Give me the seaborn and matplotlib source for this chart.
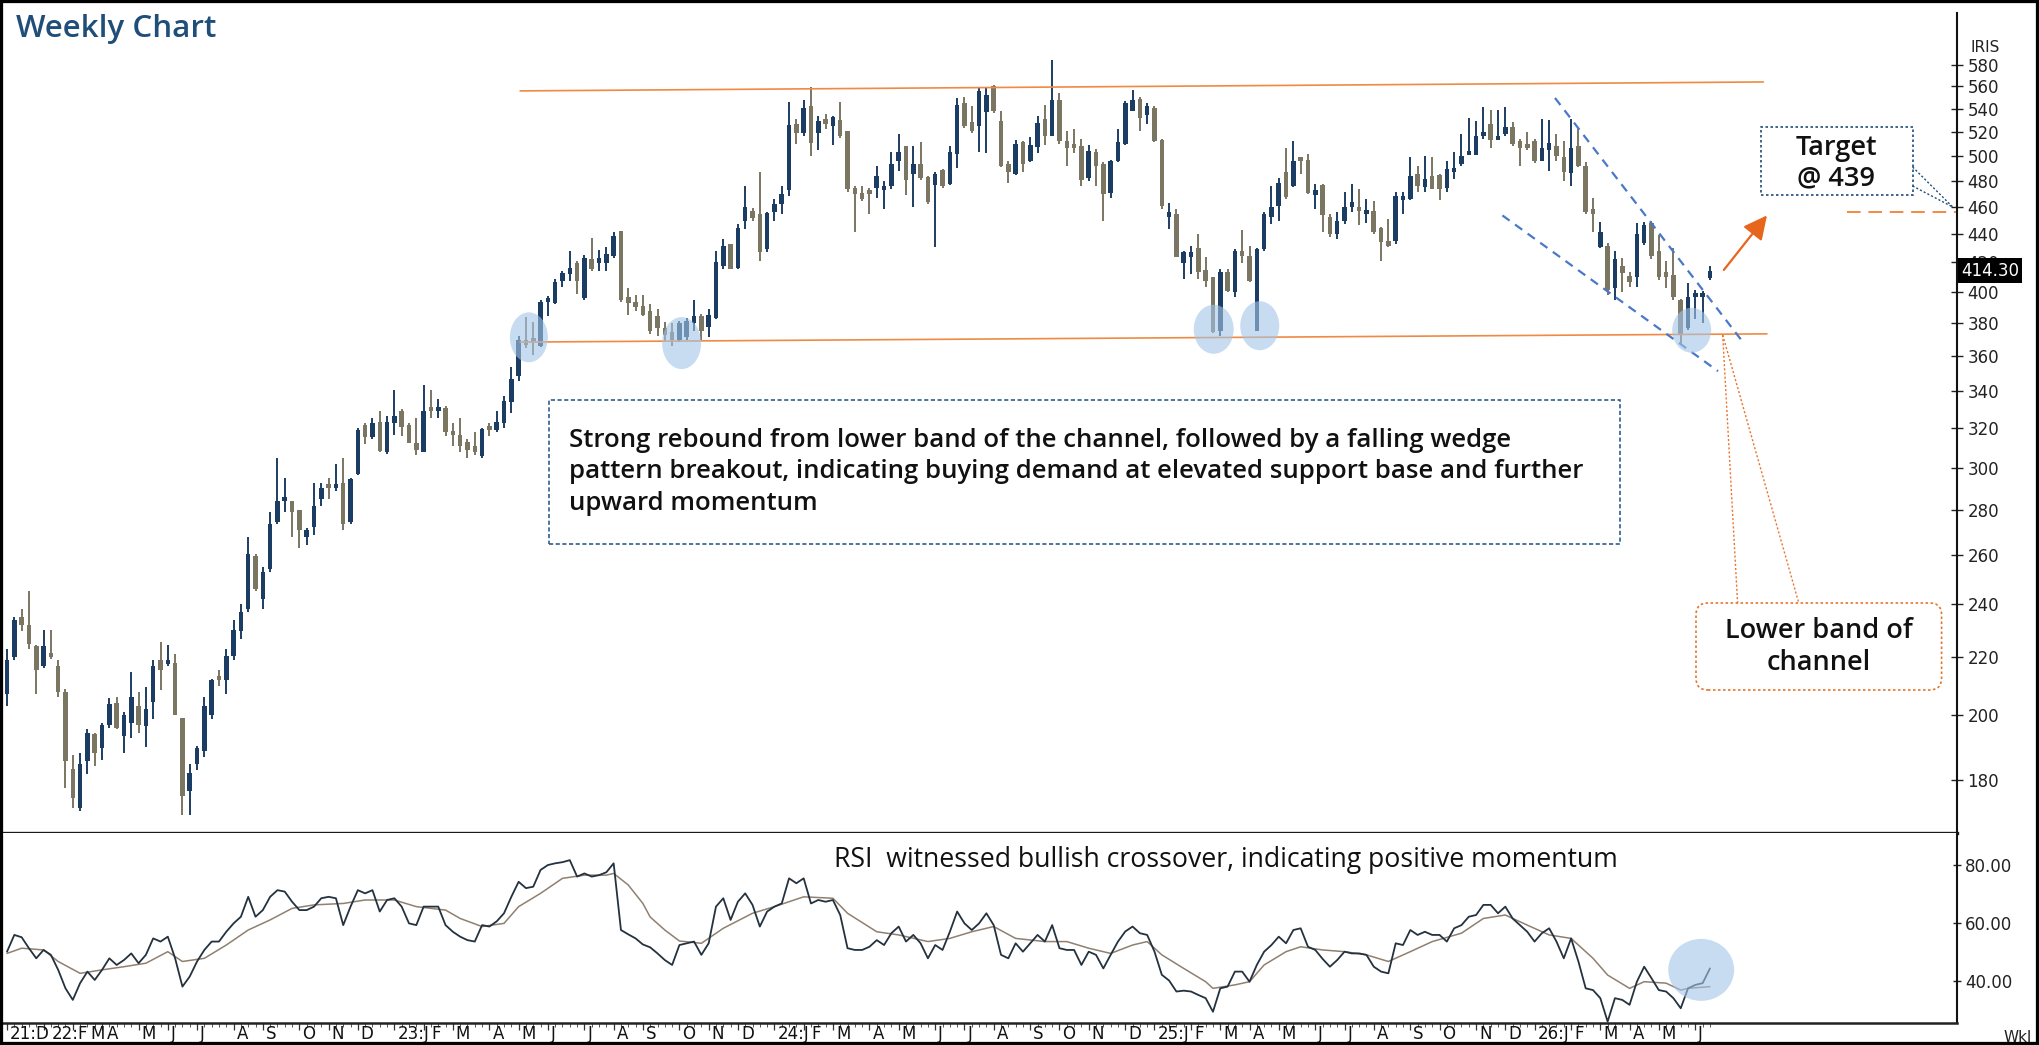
import numpy as np
import pandas as pd
import matplotlib
matplotlib.use("Agg")
from matplotlib import pyplot as plt
from matplotlib.patches import Rectangle, Ellipse, FancyBboxPatch
from matplotlib.lines import Line2D
from matplotlib.transforms import ScaledTranslation, blended_transform_factory
from matplotlib.ticker import NullLocator
import seaborn as sns

sns.set_theme(style="white")
plt.rcParams['font.family'] = ['DejaVu Sans']

# weekly bars, dated by the week-ending Friday
first_bar = '2021-12-31'

opens = [207, 220, 235, 232, 224, 217, 220.5, 217, 208, 183.3,
         172, 185.6, 194, 189.6, 197, 204, 193.5, 197.5, 203, 196.6,
         204.5, 219, 217.5, 218, 199.3, 176.7, 184.7, 188.8, 200, 213,
         212, 220.5, 229.5, 238, 259.5, 242, 254, 274.5, 284, 284,
         280, 268, 272.3, 285, 292, 290, 292.7, 274.5, 297, 321.5,
         315.5, 323.4, 307.6, 322.7, 329.3, 322, 312.4, 307.6, 330.5, 329.3,
         331, 318.5, 316.4, 313, 311, 305.8, 320, 319, 322.7, 334,
         348.5, 370, 370.5, 366, 393.5, 393, 407.4, 411.9, 419.6, 396,
         422, 419.6, 419.6, 424, 442, 396.6, 393.5, 391, 387.7, 384.5,
         377, 374.4, 370, 371.8, 380.4, 384.5, 378, 383.4, 417.7, 433,
         416.3, 449.6, 457, 454.3, 429.4, 456, 462, 472.3, 527, 518.8,
         542.4, 518.8, 530, 525, 530, 520.5, 474.4, 470.5, 470.5, 474.4,
         472.3, 475.5, 495.3, 507.7, 485.6, 493.3, 483, 476.5, 488.3, 477,
         501.4, 544.6, 528.3, 525, 537.2, 560.6, 529, 493.3, 485.6, 511,
         495.3, 507, 531, 516.6, 547.7, 512, 508, 508, 481.8, 503.4,
         493.3, 470.5, 495.3, 509.8, 538.3, 549, 534.5, 540.2, 512.8, 452.5,
         454.3, 419.6, 423.7, 429.8, 414.6, 409.6, 375, 413.2, 400, 427.6,
         424, 375, 429, 452.5, 460.4, 486.6, 475.5, 496.5, 496.1, 468.5,
         476.5, 452.5, 439.7, 449, 459.9, 458.2, 454.6, 456.4, 444.4, 435,
         435, 464.8, 465.8, 485.6, 474.8, 483.4, 484.5, 474.4, 486.6, 493.3,
         500.6, 500.6, 516, 527, 513, 518.4, 523.7, 512, 508, 512,
         496, 504.5, 508, 499, 486, 508, 491.3, 458.2, 430.8, 431.4,
         402.5, 417.4, 410.9, 410.2, 433.2, 447.7, 428, 413.5, 411, 395,
         376.8, 396.6, 396.7, 409]

highs = [223, 235, 238, 245, 224.5, 230, 230, 219, 209, 187.6,
         188, 195.5, 194.5, 197.6, 205.8, 206, 201, 214.6, 207.7, 209.5,
         219, 225.5, 224.5, 221, 199.3, 184.7, 190.4, 206, 212.3, 215.5,
         223, 234, 240, 268, 260.4, 255, 279, 304.7, 295, 284,
         280, 272, 292.7, 292.7, 295, 302, 304.7, 295.2, 320, 322.7,
         325.3, 329.3, 326.3, 340.7, 330.5, 322.7, 325.6, 343.6, 340.7, 336,
         332, 322.7, 325.6, 314.7, 318.3, 320.2, 322.7, 329.3, 337.6, 354,
         372, 384, 381, 395, 397.5, 408.4, 414.3, 428, 420.6, 424.7,
         436.8, 428.4, 430.7, 441.5, 442, 402.5, 398.3, 398.3, 392, 388.7,
         380.7, 380, 381.4, 383.5, 395, 385.6, 389, 428, 436, 433,
         447, 475.5, 459, 486.6, 456, 466, 475.5, 545.9, 531, 547.7,
         559.6, 533.5, 535.6, 533.5, 546, 520.5, 475.5, 475.5, 474.4, 491.3,
         479.3, 502.6, 517.7, 507.7, 507.7, 511, 483.4, 486.6, 489.5, 507.7,
         549.4, 550.7, 542.2, 559.6, 559.6, 561.5, 538, 496, 512.8, 512,
         515.4, 533.5, 543.2, 584.4, 553.6, 520.5, 522.6, 514, 508.6, 505.8,
         494.5, 496.5, 522.6, 547, 556.8, 550.3, 544.6, 542.4, 514, 463,
         458, 428, 431.4, 440, 423.7, 409.6, 415, 415, 429.4, 443,
         431.4, 430, 456, 475.5, 481.8, 506.4, 512, 499, 501.4, 477.3,
         477.7, 454.3, 455.6, 471.5, 477.7, 473.3, 465.8, 464, 445, 450.8,
         471.5, 471.5, 498.5, 492, 499.4, 498.5, 485.6, 495.3, 503.4, 517.7,
         531.4, 529, 541.3, 539, 539, 541.3, 528.3, 514, 519.7, 514,
         531, 529.7, 517.7, 512, 531, 523.4, 494.5, 466.5, 448.8, 433.3,
         428, 423, 413.6, 447.7, 448.8, 449.6, 439.4, 421, 430, 395.7,
         406.2, 401, 400.4, 417.5]

lows = [203, 219, 229.5, 223, 207, 216, 219.5, 206, 177.5, 171.9,
        171, 181.8, 184, 186, 196, 195.7, 188, 192.7, 194.5, 189.8,
        199, 208.5, 217, 200, 170, 170, 183, 187, 199, 210,
        207, 219, 226.7, 237, 245, 238, 253, 273.4, 279, 268,
        263, 264.5, 268.8, 281.7, 285, 289, 271, 273.4, 296.6, 312,
        314.4, 307.6, 306.7, 316.6, 316, 312.4, 306.5, 307.6, 325.3, 325.3,
        316, 311, 307.6, 305, 306.5, 305, 316, 318, 320.2, 328,
        345.5, 365, 361, 365.5, 384.5, 392.4, 403.6, 407.4, 398.4, 395,
        414.3, 414.3, 414.3, 423, 393.5, 385, 387.7, 384.5, 373.5, 372.5,
        368.5, 366, 368.5, 370, 375, 370, 371.8, 382.5, 415, 415,
        415.5, 443.6, 449, 421, 427.2, 449, 454.3, 467.7, 510, 516.6,
        500, 504.6, 522.6, 508.6, 514.5, 471.5, 441.5, 464, 454.3, 466.5,
        458, 473.3, 487.6, 468.5, 459.9, 480.6, 462.3, 430.8, 474.4, 476.5,
        490, 523.4, 519, 503.4, 502, 536, 491, 478, 484.5, 486.6,
        494.5, 502.2, 508.6, 516.6, 510, 491.7, 502, 475.5, 479.8, 475.5,
        449.6, 466.5, 494.5, 508.6, 538, 520.5, 527, 511, 458, 443.6,
        423.7, 408.4, 412, 408.4, 403.6, 373.8, 372, 400, 396.6, 419.6,
        406.7, 375, 428, 447, 449, 465.8, 474.8, 485, 469.5, 458,
        441, 437.8, 436, 447, 455.6, 446.6, 447.7, 439.7, 421, 430.7,
        432.6, 454.3, 465, 471.5, 471.5, 473.7, 465, 471.5, 481, 491.3,
        500.6, 500.6, 513.7, 506.5, 513, 516, 508, 491.7, 504.6, 494,
        495.3, 487.6, 495.7, 479.8, 475.5, 490.4, 454.3, 441.5, 429.8, 398.3,
        394.6, 400, 403.6, 403.3, 432.3, 422, 408, 402.8, 394.5, 367.4,
        376, 383, 380, 407.8]

closes = [219, 234, 232, 225, 215.5, 224, 220, 208, 185.6, 174.7,
          184.7, 194.5, 188, 197, 203.7, 196, 200, 206, 197, 202,
          217, 215.5, 218, 200, 175.4, 182, 189.6, 203, 212, 212,
          220.5, 230, 237, 260.4, 246, 253, 273.4, 284, 285.5, 279,
          271, 271, 281.7, 290, 290, 291.5, 273.4, 294.7, 319, 315.5,
          322.7, 308.5, 323.4, 326.3, 320.5, 312.4, 308.8, 329.3, 329.3, 330.5,
          318, 316.5, 311, 308.8, 307.6, 319.5, 319, 323.4, 334.7, 347,
          370, 367, 368.5, 393.5, 395, 406.7, 412.9, 416.3, 407.4, 423,
          415, 421.3, 425.5, 438.6, 395, 393, 390.5, 385, 375.4, 377.4,
          373, 370, 380, 381.4, 384.5, 375.4, 385, 420, 431.4, 415.5,
          444.4, 459.9, 451.8, 427.2, 455.4, 462, 469.5, 525.7, 518.8, 540.2,
          510.3, 529, 527, 532.7, 516.6, 473.3, 469.5, 465.8, 469.5, 483.4,
          474.4, 493.3, 503.4, 480.6, 493.3, 481.8, 463.5, 485.6, 475.5, 502.6,
          543.2, 525, 521, 556, 552.4, 538.3, 491.7, 486.6, 509.8, 493.3,
          508.6, 527.5, 516.6, 547.7, 512, 506, 506, 480.6, 504.2, 491.3,
          469.5, 495.3, 511, 544.6, 547.7, 531.4, 542.4, 512, 460.4, 455.8,
          423.7, 427.2, 427.2, 413.6, 407.4, 374.4, 413.2, 400.7, 427.6, 424,
          407.4, 429, 454.3, 460, 478.3, 467.5, 495.3, 495.3, 470.5, 472.3,
          453.4, 439.7, 449.6, 459.9, 461.7, 456.4, 456.4, 441.5, 434.3, 431.4,
          467.7, 467.7, 483.4, 475.5, 481.4, 473.7, 473.7, 489, 489.5, 499.4,
          503, 516, 519.3, 512.8, 514.9, 524, 510, 506, 506, 496,
          506, 510.3, 500, 487, 506, 491.3, 455.6, 454.3, 441.1, 401.4,
          422.3, 412.5, 406.7, 440.1, 446.6, 424, 410, 410, 396.6, 373,
          396.6, 398.4, 398, 414.3]

rsi = [50.0, 55.8, 55.0, 51.2, 47.7, 50.6, 48.9, 43.7, 37.3, 33.3,
       39.1, 43.1, 40.2, 43.7, 47.7, 45.4, 47.1, 49.4, 46.0, 48.9,
       54.6, 53.5, 55.2, 47.7, 37.9, 41.4, 46.6, 50.6, 53.5, 53.5,
       56.9, 59.8, 62.1, 69.0, 62.1, 64.4, 69.0, 71.3, 70.8, 67.3,
       64.4, 64.4, 65.6, 68.5, 69.0, 68.5, 59.2, 65.6, 71.3, 70.2,
       71.3, 63.9, 67.9, 68.5, 65.6, 59.8, 59.2, 65.6, 65.6, 65.6,
       59.2, 56.9, 55.2, 54.0, 53.5, 59.2, 58.7, 60.5, 63.3, 69.0,
       74.2, 72.0, 72.5, 78.3, 80.0, 80.6, 81.0, 81.7, 76.0, 77.1,
       76.0, 76.5, 77.5, 80.6, 57.5, 56.0, 54.6, 52.5, 51.5, 49.4,
       47.1, 45.4, 52.3, 52.9, 53.5, 48.9, 52.9, 65.6, 68.5, 61.0,
       67.3, 70.2, 66.2, 58.7, 63.9, 65.6, 66.7, 75.4, 73.7, 75.4,
       66.7, 67.9, 67.3, 67.9, 62.7, 51.2, 50.6, 50.6, 51.7, 54.0,
       52.3, 56.4, 58.7, 53.5, 55.8, 52.9, 47.7, 52.3, 50.6, 56.9,
       63.9, 59.8, 57.5, 59.8, 63.3, 59.2, 48.9, 47.7, 52.9, 50.0,
       52.9, 55.8, 53.5, 59.2, 51.2, 50.6, 50.6, 45.4, 50.0, 48.9,
       44.2, 48.9, 53.5, 57.0, 58.7, 56.4, 55.8, 50.0, 42.0, 40.0,
       36.2, 36.5, 36.2, 35.0, 33.9, 29.2, 37.3, 37.9, 43.1, 43.1,
       39.6, 45.4, 50.0, 52.3, 55.2, 52.9, 57.5, 58.1, 51.7, 50.6,
       47.5, 44.8, 47.1, 50.0, 49.4, 49.4, 48.9, 44.8, 43.1, 42.5,
       52.9, 52.3, 57.5, 55.8, 56.9, 55.8, 55.8, 53.5, 58.1, 59.2,
       62.1, 62.7, 66.2, 66.2, 63.3, 65.6, 61.5, 59.2, 56.9, 53.5,
       56.4, 58.1, 53.5, 47.7, 54.6, 46.6, 37.3, 36.7, 33.9, 25.8,
       33.9, 33.3, 31.6, 39.6, 44.8, 40.8, 36.7, 36.2, 33.9, 30.4,
       37.3, 38.5, 39.1, 44.2]

# RSI signal line, read at its turning points
signal_weeks = [0, 2, 5, 7, 10, 13, 16, 19, 22, 24, 27, 30, 33, 36, 39, 42, 46, 49, 53, 56,
                60, 62, 65, 68, 70, 73, 76, 79, 82, 83, 85, 87, 88, 90, 92, 95, 98, 102, 105, 109,
                113, 115, 119, 122, 126, 129, 132, 135, 138, 142, 145, 148, 151, 154, 156, 158, 161, 164, 165, 168,
                170, 172, 175, 177, 180, 183, 186, 189, 192, 195, 199, 202, 205, 208, 211, 214, 217, 219, 222, 224,
                227, 229, 230, 233]
signal = [49.4, 51.2, 50.6, 46.6, 42.5, 43.7, 44.8, 46.0, 50.0, 46.6, 47.7, 52.3, 57.5, 61.0, 65.0, 66.2, 66.7, 67.9, 67.9, 65.6,
          64.4, 61.5, 58.7, 59.8, 65.6, 70.2, 75.4, 76.5, 76.5, 77.1, 73.1, 66.7, 62.0, 57.5, 53.7, 52.9, 58.1, 63.3, 65.6, 69.0,
          68.5, 63.3, 56.9, 55.8, 53.5, 54.6, 56.9, 58.7, 54.6, 53.5, 53.5, 51.2, 49.4, 52.3, 53.5, 48.9, 44.2, 39.6, 37.3, 38.5,
          39.6, 45.4, 50.0, 51.7, 50.6, 50.0, 48.9, 46.6, 50.0, 53.5, 56.4, 61.5, 62.7, 59.2, 55.8, 54.6, 47.7, 41.9, 37.3, 39.6,
          39.1, 36.7, 37.3, 37.9]

month_labels = ['21:D', '22:F', 'M', 'A', 'M', 'J', 'J', 'A', 'S', 'O', 'N', 'D',
                '23:J', 'F', 'M', 'A', 'M', 'J', 'J', 'A', 'S', 'O', 'N', 'D',
                '24:J', 'F', 'M', 'A', 'M', 'J', 'J', 'A', 'S', 'O', 'N', 'D',
                '25:J', 'F', 'M', 'A', 'M', 'J', 'J', 'A', 'S', 'O', 'N', 'D',
                '26:J', 'F', 'M', 'A', 'M', 'J']
price_ticks = list(range(180, 600, 20))
rsi_ticks = [40, 60, 80]
last_price = 414.30

UP = '#1c3d63'
DOWN = '#7a7662'
CHANNEL = '#f08a42'
WEDGE = '#4a78c8'
HILITE = '#a4c6e8'
NAVY = '#1f4e79'
ARROW = '#e8651c'
BOXFONT = ['Open Sans', 'DejaVu Sans']

W, H, DPI = 2039, 1045, 100


def inch(x, y):
    # pixel position (origin top-left) -> inches on the figure
    return x / DPI, (H - y) / DPI


fig = plt.figure(figsize=(W / DPI, H / DPI), dpi=DPI)
ax = fig.add_axes([3 / W, 1 - 833 / H, 1954 / W, 820 / H])
ax2 = fig.add_axes([3 / W, 1 - 1023 / H, 1954 / W, 190 / H])
PX = fig.dpi_scale_trans

bars = pd.DataFrame({'open': opens, 'high': highs, 'low': lows, 'close': closes})
bars['week'] = np.arange(len(bars))
bars['date'] = pd.date_range(first_bar, periods=len(bars), freq='7D')
colors = np.where(bars['close'] >= bars['open'], UP, DOWN)

# ---- price panel ----
ax.set_yscale('log')
ax.vlines(bars['week'], bars['low'], bars['high'], colors=colors, lw=1.4, zorder=2)
body_lo = bars[['open', 'close']].min(axis=1)
body_hi = bars[['open', 'close']].max(axis=1)
body_h = np.maximum(body_hi - body_lo, body_lo * 0.007)
ax.bar(bars['week'], body_h, bottom=body_lo, width=0.62, color=colors, lw=0, zorder=2)

# channel
ax.plot([70.2, 240.3], [555.9, 564.1], color=CHANNEL, lw=1.2, zorder=3)
ax.plot([70.2, 240.8], [368.5, 373.5], color=CHANNEL, lw=1.2, zorder=3)
# falling wedge
ax.plot([211.8, 237.6], [549.5, 368.0], color=WEDGE, lw=1.6, ls=(0, (4, 3)), zorder=3)
ax.plot([204.6, 234.1], [453.4, 351.4], color=WEDGE, lw=1.6, ls=(0, (4, 3)), zorder=3)
# target level
ax.plot([251.7, 266.6], [456, 456], color=CHANNEL, lw=1.4, ls=(0, (7, 4)), zorder=3)
ax.annotate('', xy=(240.8, 453.4), xytext=(234.9, 414.7),
            arrowprops=dict(arrowstyle='-|>,head_length=0.8,head_width=0.4', color=ARROW,
                            lw=1.6, mutation_scale=18, shrinkA=0, shrinkB=0))


def highlight(axis, week, value, w_px, h_px):
    tr = PX + ScaledTranslation(week, value, axis.transData)
    axis.add_patch(Ellipse((0, 0), w_px / DPI, h_px / DPI, transform=tr,
                           facecolor=HILITE, edgecolor='none', alpha=0.6, zorder=4))


for wk, val, wpx, hpx in [(71.4, 371.4, 38, 50), (92.3, 367.9, 39, 52), (165.1, 376.3, 40, 49),
                          (171.4, 378.5, 39, 49), (230.5, 375.7, 39, 45)]:
    highlight(ax, wk, val, wpx, hpx)

ax.set_xlim(-0.55, 266.8)
ax.set_ylim(165, 631.5)
ax.yaxis.tick_right()
ax.yaxis.set_minor_locator(NullLocator())
ax.set_yticks(price_ticks)
ax.set_yticklabels([str(t) for t in price_ticks])
ax.set_xticks([])
ax.tick_params(axis='y', which='major', right=True, direction='inout', length=9, width=1,
               pad=3, labelsize=12, colors='#222222')
for side in ['top', 'left']:
    ax.spines[side].set_visible(False)
ax.spines['right'].set_color('#111111')
ax.spines['right'].set_linewidth(1.5)
ax.spines['bottom'].set_color('#1a1a1a')
ax.spines['bottom'].set_linewidth(2.4)

ax.text(1.002, last_price, f'{last_price:.2f}', transform=blended_transform_factory(ax.transAxes, ax.transData),
        ha='left', va='center', fontsize=12, color='white', zorder=10, clip_on=False,
        bbox=dict(boxstyle='square,pad=0.2', fc='black', ec='none'))

# ---- RSI panel ----
sns.lineplot(x=signal_weeks, y=signal, ax=ax2, color='#8f8070', lw=1.1, estimator=None, legend=False)
sns.lineplot(x=bars['week'], y=rsi, ax=ax2, color='#24323f', lw=1.3, estimator=None, legend=False)
highlight(ax2, 231.8, 43.7, 66, 62)
ax2.set_xlim(-0.55, 266.8)
ax2.set_ylim(25.3, 91.1)
ax2.set_xlabel('')
ax2.set_ylabel('')
ax2.yaxis.tick_right()
ax2.set_yticks(rsi_ticks)
ax2.set_yticklabels([f'{t:.2f}' for t in rsi_ticks])
ax2.tick_params(axis='y', right=True, direction='inout', length=6, width=1, pad=3, labelsize=12, colors='#222222')

month_starts = pd.date_range('2021-12-01', '2026-06-01', freq='MS').drop(pd.Timestamp('2022-01-01'))
tick_pos = bars['date'].searchsorted(month_starts)
ax2.set_xticks(tick_pos)
ax2.set_xticks(bars['week'], minor=True)
ax2.tick_params(axis='x', which='major', bottom=True, direction='out', length=5, width=0.9,
                colors='#333333', labelbottom=False)
ax2.tick_params(axis='x', which='minor', bottom=True, direction='out', length=3, width=0.7,
                colors='#555555', labelbottom=False)
for side in ['top', 'left']:
    ax2.spines[side].set_visible(False)
ax2.spines['right'].set_color('#111111')
ax2.spines['right'].set_linewidth(1.5)
ax2.spines['bottom'].set_color('#222222')
ax2.spines['bottom'].set_linewidth(1.8)

# month labels, nudged right when they would collide
fig.canvas.draw()
renderer = fig.canvas.get_renderer()
prev_end = -1e9
for pos, lab in zip(tick_pos, month_labels):
    xd = max(ax2.transData.transform((pos, 50))[0] + 3, prev_end + 2)
    t = fig.text(xd / DPI, (H - 1034) / DPI, lab, transform=PX, ha='left', va='center',
                 fontsize=12, color='#111111')
    prev_end = t.get_window_extent(renderer).x1

# ---- annotations ----
fig.text(*inch(16, 29), 'Weekly Chart', transform=PX, ha='left', va='center',
         fontsize=22.5, weight='semibold', color=NAVY, family=BOXFONT)
fig.text(*inch(1971, 47), 'IRIS', transform=PX, ha='left', va='center', fontsize=11, color='#222222')
fig.text(*inch(2003, 1037), 'Wkl', transform=PX, ha='left', va='center', fontsize=11, color='#222222')

x0, y0 = inch(549, 544)
fig.add_artist(FancyBboxPatch((x0, y0), (1620 - 549) / DPI, (544 - 400) / DPI, transform=PX,
                              boxstyle='square,pad=0', fc='white', ec='#2f5d8c', lw=1.2,
                              ls=(0, (2.5, 1.5)), zorder=5))
comment = ['Strong rebound from lower band of the channel, followed by a falling wedge',
           'pattern breakout, indicating buying demand at elevated support base and further',
           'upward momentum']
for line, yy in zip(comment, [440.5, 472, 503.5]):
    fig.text(*inch(569, yy), line, transform=PX, ha='left', va='center', fontsize=18.5,
             weight='semibold', color='#111111', family=BOXFONT, zorder=6)

x0, y0 = inch(1761, 195)
fig.add_artist(FancyBboxPatch((x0, y0), (1912.6 - 1761) / DPI, (195 - 127) / DPI, transform=PX,
                              boxstyle='square,pad=0', fc='white', ec=NAVY, lw=1.2,
                              ls=(0, (1.5, 1.5)), zorder=5))
for a, b in [((1912.6, 167), (1952.7, 207)), ((1912.6, 186), (1952.7, 207))]:
    fig.add_artist(Line2D([inch(*a)[0], inch(*b)[0]], [inch(*a)[1], inch(*b)[1]], transform=PX,
                          color=NAVY, lw=1.0, ls=(0, (1.5, 1.5)), zorder=5))
fig.text(*inch(1836.5, 148), 'Target', transform=PX, ha='center', va='center', fontsize=19.5,
         weight='semibold', color='#111111', family=BOXFONT, zorder=6)
fig.text(*inch(1836.5, 178), '@ 439', transform=PX, ha='center', va='center', fontsize=19.5,
         weight='semibold', color='#111111', family=BOXFONT, zorder=6)

x0, y0 = inch(1696, 690)
fig.add_artist(FancyBboxPatch((x0, y0), (1941.6 - 1696) / DPI, (690 - 603) / DPI, transform=PX,
                              boxstyle='round,pad=0,rounding_size=0.12', fc='white', ec='#e8742c',
                              lw=1.2, ls=(0, (1.5, 1.5)), zorder=5))
for b in [(1737.6, 603), (1798.8, 603)]:
    a = (1722.7, 335)
    fig.add_artist(Line2D([inch(*a)[0], inch(*b)[0]], [inch(*a)[1], inch(*b)[1]], transform=PX,
                          color='#e8742c', lw=1.0, ls=(0, (1.5, 1.5)), zorder=5))
fig.text(*inch(1819, 631), 'Lower band of', transform=PX, ha='center', va='center', fontsize=19.5,
         weight='semibold', color='#111111', family=BOXFONT, zorder=6)
fig.text(*inch(1819, 663), 'channel', transform=PX, ha='center', va='center', fontsize=19.5,
         weight='semibold', color='#111111', family=BOXFONT, zorder=6)

fig.text(*inch(834, 860), 'RSI  witnessed bullish crossover, indicating positive momentum', transform=PX,
         ha='left', va='center', fontsize=19.2, color='#111111', family=BOXFONT, zorder=6)

fig.add_artist(Rectangle((0, 0), 1, 1, transform=fig.transFigure, fill=False, ec='black', lw=4.5, zorder=20))

fig.savefig('out.png', dpi=DPI)
